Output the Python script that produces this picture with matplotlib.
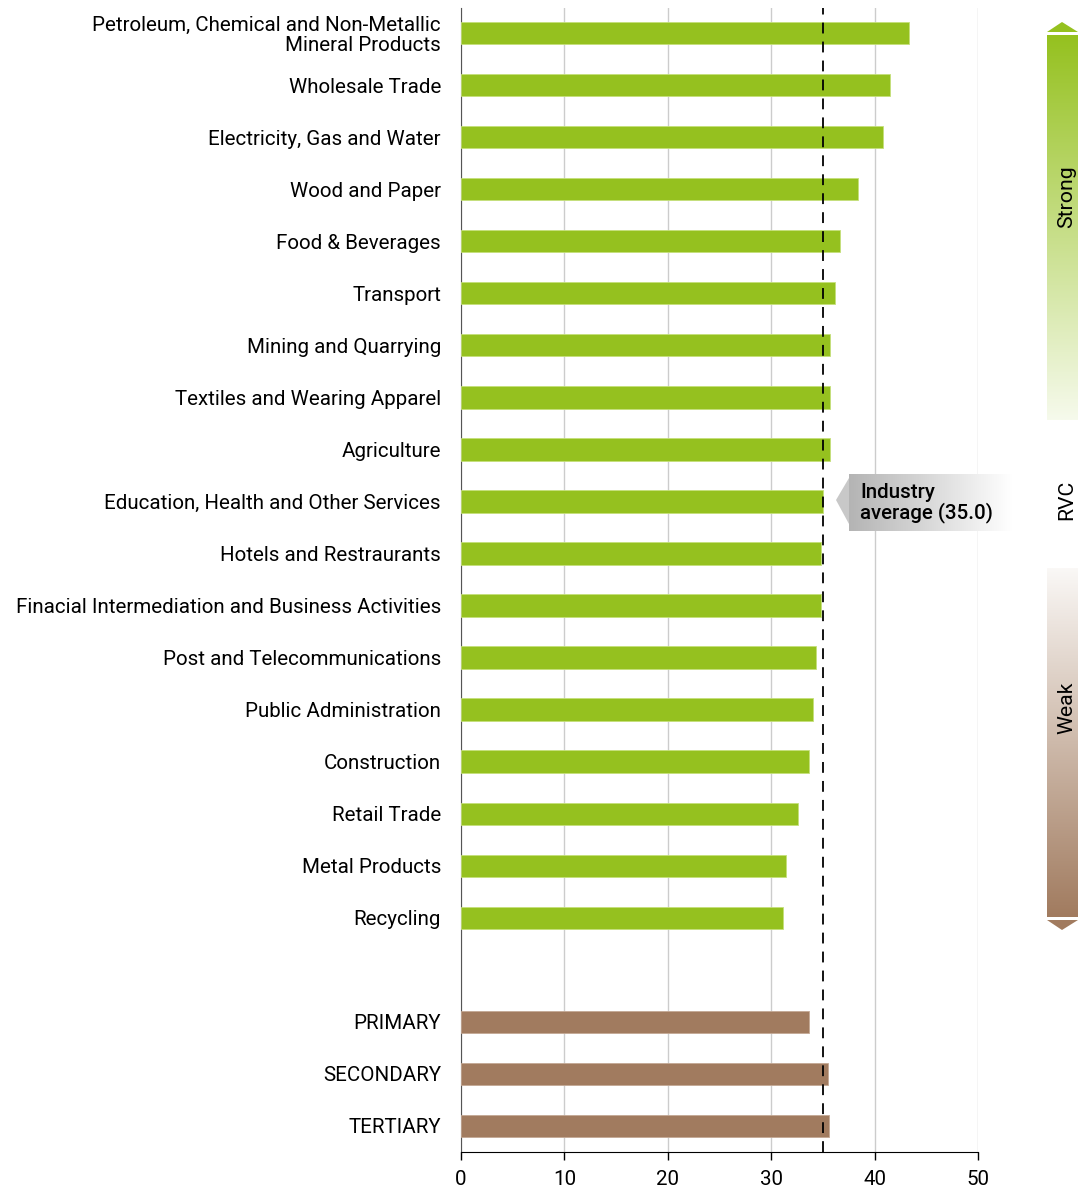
import matplotlib
matplotlib.use("Agg")
import matplotlib.pyplot as plt
import numpy as np
from matplotlib.colors import LinearSegmentedColormap
from matplotlib.patches import Polygon

plt.rcParams["font.family"] = ["Roboto", "DejaVu Sans"]

# Industries, ordered as listed from top to bottom
INDUSTRIES = [
    "Petroleum, Chemical and Non-Metallic\nMineral Products",
    "Wholesale Trade",
    "Electricity, Gas and Water",
    "Wood and Paper",
    "Food & Beverages",
    "Transport",
    "Mining and Quarrying",
    "Textiles and Wearing Apparel",
    "Agriculture",
    "Education, Health and Other Services",
    "Hotels and Restraurants",
    "Finacial Intermediation and Business Activities",
    "Post and Telecommunications",
    "Public Administration",
    "Construction",
    "Retail Trade",
    "Metal Products",
    "Recycling",
]
INDUSTRY_RVC = [43.3, 41.5, 40.8, 38.4, 36.7, 36.2, 35.7, 35.7, 35.7,
                35.0, 34.8, 34.8, 34.3, 34.0, 33.7, 32.6, 31.4, 31.1]

SECTORS = ["PRIMARY", "SECONDARY", "TERTIARY"]
SECTOR_RVC = [33.7, 35.5, 35.6]

INDUSTRY_AVG = 35.0
X_TICKS = [0, 10, 20, 30, 40, 50]

GREEN = "#95c11f"
BROWN = "#a17b5f"
FS = 14.8

W, H = 1078, 1191
fig = plt.figure(figsize=(W / 100, H / 100), dpi=100)
ax = fig.add_axes([461 / W, 39 / H, 517 / W, 1144 / H])

y_ind = np.arange(len(INDUSTRIES))
y_sec = len(INDUSTRIES) + 1 + np.arange(len(SECTORS))

ax.barh(y_ind, INDUSTRY_RVC, height=0.43, color=GREEN, edgecolor="#c5e07a",
        linewidth=0.6, zorder=3)
ax.barh(y_sec, SECTOR_RVC, height=0.43, color=BROWN, edgecolor="#c4a894",
        linewidth=0.6, zorder=3)

ax.axvline(INDUSTRY_AVG, color="black", lw=1.3, ls=(0, (6, 4.5)), zorder=4)

ax.set_xlim(0, 50)
ax.set_ylim(y_sec[-1] + 0.5, -0.48)
ax.set_xticks(X_TICKS)
ax.set_xticklabels([str(t) for t in X_TICKS], fontsize=FS)
ax.set_yticks(list(y_ind) + list(y_sec))
ax.set_yticklabels(INDUSTRIES + SECTORS, fontsize=FS, ha="right",
                   linespacing=1.1)
ax.tick_params(axis="y", length=0, pad=14.4)
ax.tick_params(axis="x", length=6, width=1, direction="out", pad=7)
# two-line label sits a little above its bar
ax.get_yticklabels()[0].set_y(-0.08)

ax.grid(axis="x", color="#cccccc", lw=1, zorder=0)
for s in ("top", "right"):
    ax.spines[s].set_visible(False)
ax.spines["left"].set_color("#555555")
ax.spines["bottom"].set_color("black")

# overlay in pixel coordinates for the callout and the side scale
ov = fig.add_axes([0, 0, 1, 1], zorder=5)
ov.set_xlim(0, W)
ov.set_ylim(H, 0)
ov.axis("off")

# industry average callout
grey = LinearSegmentedColormap.from_list("grey", ["#b4b4b4", "#ffffff"])
ov.imshow(np.linspace(0, 1, 256)[None, :], cmap=grey, aspect="auto",
          extent=(849, 1012, 531, 474), zorder=1)
ov.add_patch(Polygon([[849, 478], [836, 500], [849, 524]], closed=True,
                     facecolor="#c8c8c8", edgecolor="none", zorder=1))
ov.text(860, 503, "Industry\naverage (35.0)", fontsize=FS, fontweight="medium",
        va="center", ha="left", linespacing=1.05, zorder=2)

# strong / weak scale on the right
greens = LinearSegmentedColormap.from_list("g", [GREEN, "#f6faec"])
ov.imshow(np.linspace(0, 1, 256)[:, None], cmap=greens, aspect="auto",
          extent=(1047, 1078, 420, 35), zorder=1)
ov.add_patch(Polygon([[1047, 32], [1062, 22], [1078, 32]], closed=True,
                     facecolor=GREEN, edgecolor="none"))
browns = LinearSegmentedColormap.from_list("b", ["#faf8f6", BROWN])
ov.imshow(np.linspace(0, 1, 256)[:, None], cmap=browns, aspect="auto",
          extent=(1047, 1078, 917, 568), zorder=1)
ov.add_patch(Polygon([[1047, 920], [1062, 930], [1078, 920]], closed=True,
                     facecolor=BROWN, edgecolor="none"))

ov.text(1067, 197, "Strong", rotation=90, fontsize=FS + 0.5, ha="center", va="center")
ov.text(1067, 500, "RVC", rotation=90, fontsize=FS + 0.5, ha="center", va="center")
ov.text(1067, 708, "Weak", rotation=90, fontsize=FS + 0.5, ha="center", va="center")

fig.savefig("out.png", dpi=100)
